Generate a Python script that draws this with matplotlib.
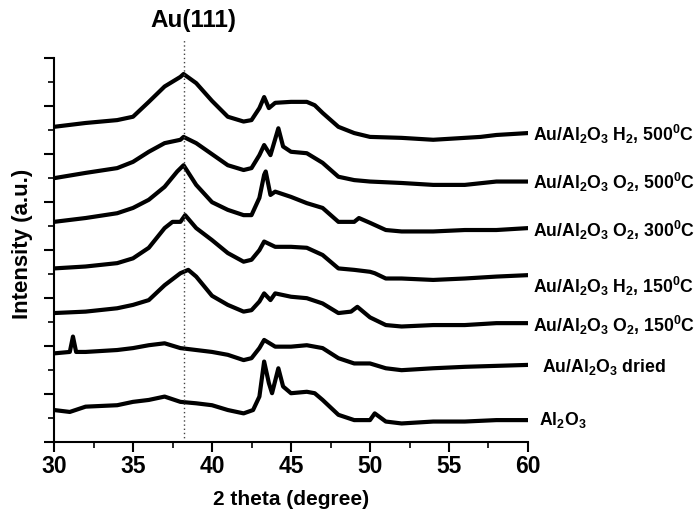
import matplotlib
matplotlib.use("Agg")
import matplotlib.pyplot as plt

plt.rcParams['font.family'] = ['Liberation Sans', 'DejaVu Sans']
plt.rcParams['font.weight'] = 'bold'
plt.rcParams['mathtext.fontset'] = 'custom'
plt.rcParams['mathtext.rm'] = 'Liberation Sans:bold'
plt.rcParams['mathtext.it'] = 'Liberation Sans:bold'
plt.rcParams['mathtext.bf'] = 'Liberation Sans:bold'
plt.rcParams['mathtext.default'] = 'rm'

# XRD patterns (stacked, arbitrary units)
two_theta_h2_500 = [30, 32, 34, 35, 36, 37, 38, 38.2, 39, 40, 41, 42, 42.5, 43, 43.3, 43.6, 44, 45, 46, 46.5, 47, 48, 49, 50, 52, 54, 56, 57, 58, 60]
inten_h2_500 = [6.56, 6.64, 6.70, 6.77, 7.08, 7.40, 7.60, 7.66, 7.47, 7.10, 6.77, 6.67, 6.70, 6.95, 7.18, 6.95, 7.06, 7.08, 7.08, 7.01, 6.85, 6.56, 6.43, 6.35, 6.33, 6.29, 6.33, 6.35, 6.39, 6.43]

two_theta_o2_500 = [30, 32, 34, 35, 36, 37, 38, 38.2, 39, 40, 41, 42, 42.5, 43, 43.3, 43.7, 44.2, 44.5, 45, 46, 47, 48, 49, 50, 52, 54, 56, 58, 60]
inten_o2_500 = [5.49, 5.60, 5.70, 5.83, 6.04, 6.22, 6.29, 6.35, 6.22, 5.99, 5.76, 5.66, 5.70, 5.97, 6.18, 5.97, 6.53, 6.15, 6.04, 6.01, 5.81, 5.52, 5.45, 5.42, 5.39, 5.35, 5.35, 5.42, 5.42]

two_theta_o2_300 = [30, 32, 34, 35, 36, 37, 37.8, 38.2, 39, 40, 41, 42, 42.5, 43, 43.3, 43.4, 43.7, 44, 45, 46, 47, 48, 49, 49.3, 50, 51, 52, 54, 56, 58, 60]
inten_o2_300 = [4.58, 4.66, 4.76, 4.87, 5.04, 5.31, 5.63, 5.76, 5.35, 4.99, 4.83, 4.72, 4.72, 5.08, 5.56, 5.63, 5.14, 5.21, 5.10, 4.97, 4.87, 4.58, 4.58, 4.66, 4.56, 4.41, 4.38, 4.38, 4.41, 4.41, 4.45]

two_theta_h2_150 = [30, 32, 34, 35, 36, 37, 37.5, 38, 38.3, 39, 40, 41, 42, 42.5, 43, 43.3, 44, 45, 46, 47, 48, 49, 50, 50.3, 51, 52, 54, 56, 58, 60]
inten_h2_150 = [3.61, 3.65, 3.72, 3.82, 4.04, 4.45, 4.58, 4.58, 4.72, 4.45, 4.20, 3.93, 3.75, 3.79, 3.99, 4.17, 4.06, 4.06, 4.04, 3.89, 3.61, 3.58, 3.54, 3.51, 3.40, 3.40, 3.37, 3.40, 3.44, 3.47]

two_theta_o2_150 = [30, 32, 34, 35, 36, 37, 38, 38.5, 39, 40, 41, 42, 42.5, 43, 43.3, 43.7, 44, 45, 46, 47, 48, 48.8, 49.2, 50, 51, 52, 54, 56, 58, 60]
inten_o2_150 = [2.68, 2.71, 2.78, 2.85, 2.95, 3.26, 3.51, 3.58, 3.44, 3.04, 2.85, 2.71, 2.74, 2.92, 3.09, 2.95, 3.09, 3.02, 2.99, 2.88, 2.68, 2.71, 2.81, 2.59, 2.43, 2.40, 2.43, 2.43, 2.47, 2.47]

two_theta_dried = [30, 31, 31.2, 31.4, 32, 34, 35, 36, 37, 38, 39, 40, 41, 42, 42.5, 43, 43.3, 44, 45, 46, 47, 48, 49, 50, 51, 52, 54, 56, 58, 60]
inten_dried = [1.84, 1.87, 2.19, 1.87, 1.87, 1.91, 1.95, 2.01, 2.05, 1.95, 1.91, 1.87, 1.81, 1.70, 1.74, 1.95, 2.12, 1.98, 1.98, 2.01, 1.95, 1.74, 1.63, 1.63, 1.53, 1.49, 1.53, 1.56, 1.58, 1.60]

two_theta_al2o3 = [30, 31, 32, 34, 35, 36, 37, 38, 39, 40, 41, 42, 42.6, 43, 43.3, 43.6, 43.8, 44.2, 44.5, 45, 46, 46.5, 47, 48, 49, 50, 50.3, 51, 52, 54, 56, 58, 60]
inten_al2o3 = [0.66, 0.62, 0.73, 0.76, 0.83, 0.87, 0.94, 0.83, 0.80, 0.76, 0.66, 0.59, 0.66, 0.94, 1.67, 1.22, 1.01, 1.53, 1.15, 1.01, 1.04, 1.01, 0.87, 0.56, 0.45, 0.45, 0.59, 0.42, 0.38, 0.42, 0.42, 0.45, 0.45]

sample_labels = [
    r'Au/Al$_2$O$_3$ H$_2$, 500$^0$C',
    r'Au/Al$_2$O$_3$ O$_2$, 500$^0$C',
    r'Au/Al$_2$O$_3$ O$_2$, 300$^0$C',
    r'Au/Al$_2$O$_3$ H$_2$, 150$^0$C',
    r'Au/Al$_2$O$_3$ O$_2$, 150$^0$C',
    r'Au/Al$_2$O$_3$ dried',
    r'Al$_2$O$_3$',
]
label_y = [6.40, 5.40, 4.40, 3.23, 2.43, 1.56, 0.45]
label_x = [60.3, 60.3, 60.3, 60.3, 60.3, 60.9, 60.7]

au111_position = 38.2

series = [
    (two_theta_h2_500, inten_h2_500),
    (two_theta_o2_500, inten_o2_500),
    (two_theta_o2_300, inten_o2_300),
    (two_theta_h2_150, inten_h2_150),
    (two_theta_o2_150, inten_o2_150),
    (two_theta_dried, inten_dried),
    (two_theta_al2o3, inten_al2o3),
]

fig = plt.figure(figsize=(6.96, 5.13), dpi=100)
ax = fig.add_axes([54 / 696, 71.3 / 513, 474 / 696, 384 / 513])

for (tt, inten), lab, lx, ly in zip(series, sample_labels, label_x, label_y):
    ax.plot(tt, inten, color='black', lw=3.0, solid_joinstyle='round')
    ax.text(lx, ly, lab, fontsize=12.7, fontweight='bold', ha='left', va='center',
            clip_on=False)

# Au(111) reference position
ax.plot([au111_position, au111_position], [0, 8.42], color='#444444', lw=1.0,
        ls=(0, (1, 2)), clip_on=False)
ax.text(au111_position + 0.62, 8.78, 'Au(111)', fontsize=17.5, fontweight='bold',
        ha='center', va='center')

ax.set_xlim(30, 60)
ax.set_ylim(0, 8)
ax.set_xticks([30, 35, 40, 45, 50, 55, 60])
ax.set_xticks([32.5, 37.5, 42.5, 47.5, 52.5, 57.5], minor=True)
ax.set_yticks(range(0, 9))
ax.set_yticks([i + 0.5 for i in range(8)], minor=True)
ax.set_yticklabels([])
ax.tick_params(axis='both', which='major', direction='out', length=7, width=1.5)
ax.tick_params(axis='both', which='minor', direction='out', length=4, width=1.2)
ax.tick_params(axis='x', labelsize=16.5, pad=2.5)
for t in ax.get_xticklabels():
    t.set_fontweight('bold')
ax.spines['top'].set_visible(False)
ax.spines['right'].set_visible(False)
ax.spines['left'].set_linewidth(1.5)
ax.spines['bottom'].set_linewidth(1.5)

ax.set_xlabel('2 theta (degree)', fontsize=15, fontweight='bold')
ax.xaxis.set_label_coords(0.5, -0.125)
ax.set_ylabel('Intensity (a.u.)', fontsize=16, fontweight='bold')
ax.yaxis.set_label_coords(-0.044, 0.515)

fig.savefig('out.png', dpi=100)
